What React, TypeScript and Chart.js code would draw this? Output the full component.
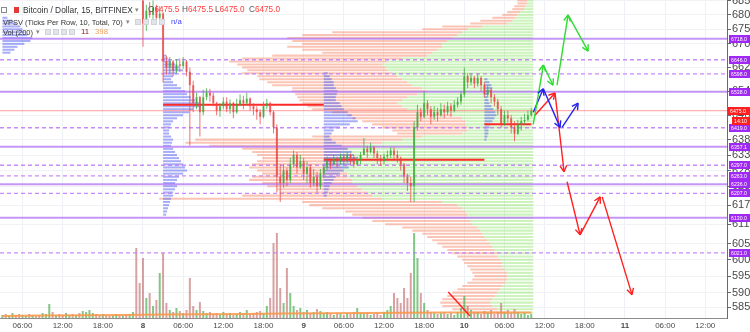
import React, { useEffect, useRef } from 'react';
import { Chart, registerables } from 'chart.js';

Chart.register(...registerables);

const WIDTH = 750;
const HEIGHT = 332;
const FONT = '"Liberation Sans", Arial, sans-serif';

// ---- time axis (hours counted from the 7th, 00:00) ----
const TIME_MIN = 2.64;
const TIME_MAX = 111.24;
const TIME_TICKS = [6, 12, 18, 24, 30, 36, 42, 48, 54, 60, 66, 72, 78, 84, 90, 96, 102, 108];
const DAY_LABELS: Record<number, string> = { 24: '8', 48: '9', 72: '10', 96: '11' };

// ---- price axis (log) ----
const PRICE_MIN = 5824;
const PRICE_MAX = 6852;
const PRICE_TICKS = [6850, 6800, 6750, 6700, 6620, 6540, 6460, 6380, 6330, 6280, 6230, 6170, 6110, 6050, 6000, 5950, 5900, 5856];

// ---- candles (30 min) ----
const CANDLE_START = 24;
const CANDLE_STEP = 0.5;
const FIRST_OPEN = 6850;
const CANDLE_CLOSE = [
  6770, 6815, 6800, 6825, 6790, 6805, 6640, 6620, 6640, 6610,
  6630, 6625, 6640, 6605, 6560, 6500, 6520, 6470, 6520, 6535,
  6525, 6500, 6475, 6490, 6505, 6480, 6500, 6470, 6495, 6510,
  6500, 6515, 6490, 6480, 6470, 6455, 6490, 6500, 6470, 6420,
  6260, 6240, 6280, 6250, 6300, 6330, 6290, 6310, 6270, 6290,
  6240, 6260, 6230, 6270, 6290, 6310, 6300, 6320, 6310, 6325,
  6315, 6330, 6320, 6300, 6315, 6330, 6350, 6340, 6355, 6335,
  6320, 6310, 6325, 6330, 6345, 6330, 6320, 6300, 6260, 6240,
  6230, 6420, 6470, 6455, 6500, 6480, 6455, 6470, 6460, 6480,
  6470, 6490, 6475, 6495, 6505, 6530, 6590, 6570, 6585, 6565,
  6585, 6560, 6530, 6545, 6520, 6505, 6480, 6430, 6460, 6450,
  6420, 6400, 6430, 6440, 6445, 6460, 6475,
];
const CANDLE_HIGH = [
  6865, 6835, 6845, 6850, 6835, 6830, 6810, 6660, 6655, 6645,
  6648, 6650, 6655, 6645, 6620, 6575, 6535, 6525, 6545, 6550,
  6548, 6535, 6505, 6500, 6520, 6520, 6512, 6505, 6515, 6530,
  6525, 6535, 6520, 6500, 6490, 6480, 6505, 6515, 6505, 6475,
  6430, 6300, 6300, 6290, 6320, 6345, 6340, 6330, 6320, 6310,
  6300, 6285, 6275, 6285, 6300, 6325, 6320, 6330, 6325, 6335,
  6335, 6340, 6335, 6330, 6325, 6340, 6385, 6360, 6370, 6360,
  6345, 6330, 6335, 6345, 6355, 6355, 6345, 6325, 6305, 6270,
  6260, 6440, 6495, 6485, 6540, 6510, 6490, 6490, 6485, 6500,
  6495, 6505, 6500, 6510, 6520, 6540, 6620, 6600, 6600, 6590,
  6600, 6590, 6570, 6560, 6550, 6530, 6515, 6490, 6475, 6475,
  6460, 6440, 6445, 6455, 6465, 6475, 6485,
];
const CANDLE_LOW = [
  6690, 6745, 6790, 6785, 6775, 6770, 6570, 6595, 6600, 6590,
  6600, 6605, 6615, 6590, 6360, 6470, 6480, 6390, 6460, 6510,
  6505, 6490, 6460, 6455, 6480, 6470, 6465, 6450, 6465, 6490,
  6480, 6495, 6475, 6460, 6445, 6430, 6450, 6480, 6460, 6400,
  6210, 6180, 6225, 6230, 6240, 6290, 6270, 6285, 6250, 6240,
  6225, 6230, 6210, 6220, 6255, 6280, 6285, 6295, 6290, 6300,
  6300, 6305, 6300, 6290, 6295, 6300, 6330, 6320, 6335, 6320,
  6300, 6295, 6300, 6310, 6320, 6315, 6305, 6280, 6240, 6215,
  6180, 6180, 6410, 6440, 6450, 6460, 6430, 6445, 6440, 6455,
  6450, 6460, 6455, 6470, 6485, 6495, 6520, 6550, 6560, 6550,
  6555, 6540, 6520, 6520, 6500, 6490, 6460, 6420, 6425, 6435,
  6400, 6375, 6395, 6410, 6430, 6440, 6455,
];

// ---- volume (30 min) ----
const VOLUME_START = 3;
const VOLUME_STEP = 0.5;
const VOLUME_AXIS_MAX = 318;
const VOLUME = [
  3, 4, 2, 5, 3, 4, 3, 2, 4, 3, 2, 3, 5, 4, 14, 6, 3, 4, 3, 5,
  3, 4, 3, 5, 7, 6, 8, 5, 4, 3, 4, 3, 2, 3, 4, 3, 2, 3, 4, 6,
  70, 35,
  60, 20, 25, 12, 18, 45, 65, 15, 8, 6,
  10, 7, 5, 8, 40, 12, 8, 16, 7, 5,
  6, 4, 5, 3, 6, 4, 5, 3, 4, 6,
  5, 8, 4, 5, 6, 7, 5, 12, 20, 75,
  85, 30, 15, 50, 25, 12, 8, 10, 6, 8,
  5, 6, 9, 7, 5, 6, 4, 3, 5, 4,
  3, 5, 4, 6, 10, 5, 4, 5, 3, 4,
  5, 3, 6, 8, 12, 25, 20, 15, 30, 20,
  45, 85, 60, 25, 15, 8, 6, 5, 4, 5,
  6, 4, 5, 3, 6, 10, 22, 12, 8, 5,
  6, 4, 7, 5, 8, 4, 6, 15, 6, 8,
  5, 9, 6, 4, 5, 3, 4,
];
// direction of the volume bars before the first visible candle (u = up, d = down)
const PRE_CANDLE_VOLUME_DIR = 'uduudduududduuududduududuuuuddudduududuudd';
const VOL_MA_TIME = [3, 9, 15, 21, 27, 33, 39, 45, 51, 57, 63, 69, 75, 82];
const VOL_MA = [2, 2.5, 2.8, 3, 3.4, 3.8, 4, 4.4, 4.8, 5, 5.2, 5.4, 5.5, 5.5];

// ---- right-anchored volume profile (rows of 10 USD, from 6850 down) ----
const PROFILE_TOP = 6850;
const PROFILE_STEP = 10;
const PROFILE_ANCHOR = 82.3;
const PROFILE_UNIT = 0.1494; // hours per volume unit
const PROFILE_UP = [
  6, 6, 8, 9, 13, 16, 18, 21, 26, 51,
  66, 71, 76, 81, 86, 91, 91, 96, 101, 106,
  131, 146, 151, 148, 146, 141, 136, 131, 126, 121,
  111, 106, 116, 126, 131, 136, 131, 126, 101, 81,
  71, 68, 68, 66, 66, 71, 111, 131, 151, 171,
  186, 191, 196, 201, 201, 196, 191, 191, 186, 186,
  181, 181, 176, 171, 166, 161, 151, 91, 76, 71,
  68, 66, 66, 63, 61, 56, 53, 51, 49, 46,
  43, 41, 39, 36, 36, 33, 31, 31, 29, 26,
  26, 26, 28, 31, 33, 36, 38, 41, 43, 41,
  36, 26,
];
const PROFILE_DOWN = [
  10, 10, 11, 12, 13, 15, 23, 32, 37, 40,
  45, 130, 155, 165, 155, 140, 155, 135, 110, 155,
  160, 158, 145, 143, 140, 150, 140, 143, 140, 140,
  130, 135, 122, 110, 103, 95, 95, 95, 100, 105,
  110, 103, 93, 85, 75, 65, 110, 207, 197, 153,
  105, 90, 80, 70, 75, 85, 93, 85, 85, 95,
  103, 90, 90, 85, 88, 130, 223, 140, 148, 140,
  120, 115, 105, 98, 87, 75, 68, 60, 57, 55,
  53, 50, 47, 45, 40, 38, 38, 35, 34, 35,
  33, 35, 38, 40, 43, 45, 48, 50, 50, 50,
  45, 35,
];

// ---- session volume profiles (blue) ----
const SESSION_START = [3, 27, 51, 75];
const SESSION_TOP = [6790, 6660, 6600, 6580];
const SESSION_7_ROWS = [5, 10, 14, 18, 20, 22, 25, 30, 28, 22, 15, 12, 8];
const SESSION_8_ROWS = [
  3, 5, 8, 12, 16, 20, 14, 10, 8, 10, 14, 18, 22, 24, 28, 32, 36, 38, 30, 26,
  20, 14, 10, 8, 7, 6, 6, 8, 10, 9, 8, 10, 12, 14, 16, 18, 20, 22, 24, 20,
  16, 14, 12, 14, 12, 10, 10, 8, 7, 6, 5, 4, 3,
];
const SESSION_9_ROWS = [
  4, 6, 8, 10, 10, 12, 14, 13, 12, 12, 16, 18, 20, 24, 28, 32, 34, 26, 16, 10,
  8, 6, 8, 12, 18, 24, 28, 30, 33, 30, 27, 25, 20, 16, 12, 10, 8, 6, 5, 4, 3,
];
const SESSION_10_ROWS = [3, 5, 7, 8, 6, 4, 3, 4, 5, 7, 9, 11, 12, 10, 8, 6, 5, 4, 4, 3, 2];

// ---- point of control per session ----
const POC_START = [27, 51, 75];
const POC_END = [51, 75, 82];
const POC_PRICE = [6495, 6315, 6430];

// ---- horizontal levels ----
const SOLID_LEVELS = [6718, 6538, 6357.1, 6236, 6130];
const DASHED_LEVELS = [6646, 6598, 6419, 6297, 6263, 6207, 6021];
const LAST_PRICE = 6475;
const COUNTDOWN = '14:10';

// ---- drawn arrows: [[time, price], [time, price]] ----
const GREEN_ARROWS = [
  [[82.3, 6430], [83.8, 6628]],
  [[83.8, 6628], [85.25, 6560]],
  [[85.85, 6560], [87.5, 6800]],
  [[87.5, 6800], [90.5, 6675]],
];
const BLUE_ARROWS = [
  [[82.3, 6470], [83.8, 6548]],
  [[83.8, 6548], [86.3, 6420]],
  [[86.6, 6420], [89.0, 6500]],
];
const RED_ARROWS = [
  [[82.55, 6460], [85.55, 6534]],
  [[85.55, 6534], [86.9, 6276]],
  [[87.35, 6244], [89.3, 6077]],
  [[89.3, 6077], [92.3, 6196]],
  [[92.6, 6196], [97.05, 5894]],
];
const RED_LINES = [[[69.6, 5902], [72.85, 5830]]];

// ---- legend texts ----
const TITLE = 'Bitcoin / Dollar, 15, BITFINEX';
const OHLC_KEYS = ['O', 'H', 'L', 'C'];
const OHLC_VALUES = ['6475.5', '6475.5', '6475.0', '6475.0'];
const VPSV_TITLE = 'VPSV (Ticks Per Row, 10, Total, 70)';
const VPSV_VALUE = 'n/a';
const VOL_TITLE = 'Vol (200)';
const VOL_VALUES = ['11', '398'];

// ---- colours ----
const UP = 'rgba(60,170,60,0.78)';
const DOWN = 'rgba(232,70,70,0.75)';
const VOL_UP = 'rgba(76,175,80,0.7)';
const VOL_DOWN = 'rgba(190,100,100,0.6)';
const SALMON = 'rgba(247,140,110,0.5)';
const LIGHT_GREEN = 'rgba(140,228,105,0.45)';
const BLUE_PROFILE = 'rgba(95,105,238,0.55)';
const LEVEL_SOLID = 'rgba(178,115,245,0.75)';
const LEVEL_DASHED = 'rgba(190,120,248,0.85)';
const LABEL_PURPLE = 'rgb(160,40,245)';
const LABEL_RED = '#ff1f1f';

function hline(t0: number, t1: number, p: number) {
  return [{ x: t0, y: p }, { x: t1, y: p }];
}

const overlayPlugin = {
  id: 'overlay',
  afterDatasetsDraw(chart: any) {
    const ctx = chart.ctx;
    chart.data.datasets.forEach((ds: any, i: number) => {
      if (!ds.arrowHead) return;
      const pts = chart.getDatasetMeta(i).data;
      if (pts.length < 2) return;
      const a = pts[pts.length - 2];
      const b = pts[pts.length - 1];
      const ang = Math.atan2(b.y - a.y, b.x - a.x);
      ctx.save();
      ctx.strokeStyle = ds.borderColor;
      ctx.lineWidth = ds.borderWidth;
      ctx.beginPath();
      [-0.5, 0.5].forEach((d) => {
        ctx.moveTo(b.x, b.y);
        ctx.lineTo(b.x - 7 * Math.cos(ang + d), b.y - 7 * Math.sin(ang + d));
      });
      ctx.stroke();
      ctx.restore();
    });
  },
  afterDraw(chart: any) {
    const ctx = chart.ctx;
    const ys = chart.scales.y;
    const box = (price: number, text: string, color: string, x0: number, dy: number) => {
      const py = ys.getPixelForValue(price) + dy;
      ctx.save();
      ctx.fillStyle = color;
      ctx.fillRect(x0, Math.round(py - 4), WIDTH - x0, 8);
      ctx.fillStyle = '#ffffff';
      ctx.font = `5.2px ${FONT}`;
      ctx.textAlign = 'left';
      ctx.textBaseline = 'middle';
      ctx.fillText(text, x0 + 2, py + 0.5);
      ctx.restore();
    };
    [...SOLID_LEVELS, ...DASHED_LEVELS].forEach((p) => box(p, p.toFixed(1), LABEL_PURPLE, 729, 0));
    box(LAST_PRICE, LAST_PRICE.toFixed(1), LABEL_RED, 728, 0);
    box(LAST_PRICE, COUNTDOWN, LABEL_RED, 732, 10);
  },
};

function buildDatasets() {
  const ds: any[] = [];
  const rows = PROFILE_UP.map((_, k) => PROFILE_TOP - k * PROFILE_STEP);
  const profBase = { type: 'bar', indexAxis: 'y', xAxisID: 'x2', yAxisID: 'y2', grouped: false, maxBarThickness: 2.2, borderWidth: 0 };
  ds.push({
    ...profBase, order: 100, backgroundColor: SALMON,
    data: rows.map((p, k) => ({ y: p, x: [PROFILE_ANCHOR - (PROFILE_UP[k] + PROFILE_DOWN[k]) * PROFILE_UNIT, PROFILE_ANCHOR - PROFILE_UP[k] * PROFILE_UNIT] })),
  });
  ds.push({
    ...profBase, order: 99, backgroundColor: LIGHT_GREEN,
    data: rows.map((p, k) => ({ y: p, x: [PROFILE_ANCHOR - PROFILE_UP[k] * PROFILE_UNIT, PROFILE_ANCHOR] })),
  });
  const sessions = [SESSION_7_ROWS, SESSION_8_ROWS, SESSION_9_ROWS, SESSION_10_ROWS];
  const sessionData: any[] = [];
  sessions.forEach((r, s) => r.forEach((w, k) => {
    sessionData.push({ y: SESSION_TOP[s] - k * PROFILE_STEP, x: [SESSION_START[s], SESSION_START[s] + w * PROFILE_UNIT] });
  }));
  ds.push({ ...profBase, order: 95, backgroundColor: BLUE_PROFILE, data: sessionData });

  // candles
  const opens = CANDLE_CLOSE.map((_, i) => (i === 0 ? FIRST_OPEN : CANDLE_CLOSE[i - 1]));
  const candleColor = CANDLE_CLOSE.map((c, i) => (c >= opens[i] ? UP : DOWN));
  const candleTime = CANDLE_CLOSE.map((_, i) => CANDLE_START + i * CANDLE_STEP);

  // volume
  const volColor = VOLUME.map((_, j) => {
    const i = j - PRE_CANDLE_VOLUME_DIR.length;
    if (i < 0) return PRE_CANDLE_VOLUME_DIR[j] === 'u' ? VOL_UP : VOL_DOWN;
    return CANDLE_CLOSE[i] >= opens[i] ? VOL_UP : VOL_DOWN;
  });
  ds.push({
    type: 'bar', xAxisID: 'x', yAxisID: 'yv', grouped: false, maxBarThickness: 2, borderWidth: 0, order: 80,
    backgroundColor: volColor,
    data: VOLUME.map((v, j) => ({ x: VOLUME_START + j * VOLUME_STEP, y: v })),
  });
  ds.push({
    type: 'line', xAxisID: 'x', yAxisID: 'yv', order: 75, borderColor: 'rgba(250,150,70,0.85)', borderWidth: 2,
    pointRadius: 0, tension: 0, data: VOL_MA_TIME.map((t, k) => ({ x: t, y: VOL_MA[k] })),
  });

  const lineBase = { type: 'line', xAxisID: 'x', yAxisID: 'y', pointRadius: 0, tension: 0, fill: false };
  SOLID_LEVELS.forEach((p) => ds.push({ ...lineBase, order: 60, borderColor: LEVEL_SOLID, borderWidth: 2, data: hline(TIME_MIN, TIME_MAX, p) }));
  DASHED_LEVELS.forEach((p) => ds.push({ ...lineBase, order: 60, borderColor: LEVEL_DASHED, borderWidth: 1.4, borderDash: [4, 3], data: hline(TIME_MIN, TIME_MAX, p) }));
  ds.push({ ...lineBase, order: 58, borderColor: 'rgba(255,90,90,0.6)', borderWidth: 1, data: hline(TIME_MIN, TIME_MAX, LAST_PRICE) });
  POC_PRICE.forEach((p, k) => ds.push({ ...lineBase, order: 50, borderColor: '#ff2a2a', borderWidth: 2, data: hline(POC_START[k], POC_END[k], p) }));

  ds.push({
    type: 'bar', xAxisID: 'x', yAxisID: 'y', grouped: false, maxBarThickness: 1, borderWidth: 0, order: 40,
    backgroundColor: candleColor,
    data: candleTime.map((t, i) => ({ x: t, y: [CANDLE_LOW[i], CANDLE_HIGH[i]] })),
  });
  ds.push({
    type: 'bar', xAxisID: 'x', yAxisID: 'y', grouped: false, maxBarThickness: 2, borderWidth: 0, order: 30, minBarLength: 1,
    backgroundColor: candleColor,
    data: candleTime.map((t, i) => ({ x: t, y: [opens[i], CANDLE_CLOSE[i]] })),
  });

  const arrow = (seg: number[][], color: string, head: boolean) => ({
    ...lineBase, order: 10, borderColor: color, borderWidth: 1.4, arrowHead: head,
    data: seg.map(([t, p]) => ({ x: t, y: p })),
  });
  GREEN_ARROWS.forEach((s) => ds.push(arrow(s, '#2fdc2f', true)));
  BLUE_ARROWS.forEach((s) => ds.push(arrow(s, '#2424ee', true)));
  RED_ARROWS.forEach((s) => ds.push(arrow(s, '#ff2020', true)));
  RED_LINES.forEach((s) => ds.push(arrow(s, '#ff2020', false)));
  return ds;
}

function Txt(props: { x: number; y: number; size: number; color?: string; bold?: boolean; children: any }) {
  const { x, y, size, color = '#333', bold, children } = props;
  return (
    <span
      style={{
        position: 'absolute', left: x, top: y - size * 0.6, fontSize: size, lineHeight: `${size * 1.2}px`,
        fontFamily: FONT, color, fontWeight: bold ? 700 : 400, whiteSpace: 'nowrap',
      }}
    >
      {children}
    </span>
  );
}

function Icon(props: { x: number; y: number }) {
  return (
    <span
      style={{
        position: 'absolute', left: props.x, top: props.y - 3, width: 6, height: 6,
        background: '#e2e4e8', border: '1px solid #cfd2d8', boxSizing: 'border-box',
      }}
    />
  );
}

export default function App() {
  const ref = useRef<HTMLCanvasElement>(null);
  useEffect(() => {
    const canvas = ref.current;
    if (!canvas) return;
    const chart = new Chart(canvas, {
      type: 'bar',
      data: { datasets: buildDatasets() },
      plugins: [overlayPlugin],
      options: {
        responsive: false,
        animation: false,
        devicePixelRatio: 1,
        events: [],
        layout: { padding: 0 },
        plugins: { legend: { display: false }, tooltip: { enabled: false } },
        scales: {
          x: {
            type: 'linear', position: 'bottom', min: TIME_MIN, max: TIME_MAX, bounds: 'data', offset: false,
            afterBuildTicks: (s: any) => { s.ticks = TIME_TICKS.map((v) => ({ value: v })); },
            afterFit: (s: any) => { s.height = 14; s.paddingLeft = 0; s.paddingRight = 0; },
            grid: { color: '#edf0f5', drawTicks: false, offset: false },
            border: { display: true, color: '#8c8c8c' },
            ticks: {
              padding: 3, autoSkip: false, maxRotation: 0, color: '#4a4a4a',
              font: (c: any) => ({ size: 8, family: FONT, weight: c.tick && DAY_LABELS[c.tick.value] ? 'bold' : 'normal' }),
              callback: (v: any) => DAY_LABELS[v] ?? `${String(v % 24).padStart(2, '0')}:00`,
            },
          },
          y: {
            type: 'logarithmic', position: 'right', min: PRICE_MIN, max: PRICE_MAX, bounds: 'data', offset: false,
            afterBuildTicks: (s: any) => { s.ticks = PRICE_TICKS.map((v) => ({ value: v })); },
            afterFit: (s: any) => { s.width = 23; s.paddingTop = 0; s.paddingBottom = 0; },
            grid: { color: '#f0f2f6', tickLength: 4, tickColor: '#666', offset: false },
            border: { display: true, color: '#6a6a6a' },
            ticks: { padding: 1, autoSkip: false, color: '#4a4a4a', font: { size: 11, family: FONT }, callback: (v: any) => String(v) },
          },
          yv: { type: 'linear', display: false, position: 'left', min: 0, max: VOLUME_AXIS_MAX, offset: false },
          x2: { type: 'linear', display: false, axis: 'x', position: 'bottom', min: TIME_MIN, max: TIME_MAX, bounds: 'data', offset: false },
          y2: { type: 'logarithmic', display: false, axis: 'y', position: 'right', min: PRICE_MIN, max: PRICE_MAX, bounds: 'data', offset: false },
        },
      } as any,
    } as any);
    return () => chart.destroy();
  }, []);

  const ohlcX = [148, 182, 215, 249];
  return (
    <div style={{ position: 'fixed', left: 0, top: 0, width: WIDTH, height: HEIGHT, background: '#ffffff', overflow: 'hidden' }}>
      <canvas ref={ref} width={WIDTH} height={HEIGHT} style={{ display: 'block', width: WIDTH, height: HEIGHT }} />
      <span style={{ position: 'absolute', left: 1, top: 7, width: 6, height: 6, border: '1px solid #8a8a8a', boxSizing: 'border-box', background: '#fff' }} />
      <span style={{ position: 'absolute', left: 14, top: 7, width: 5, height: 6, background: '#e53935' }} />
      <Txt x={23} y={10} size={8.4}>{TITLE}</Txt>
      <Txt x={135} y={10} size={7} color="#888">▾</Txt>
      {OHLC_KEYS.map((k, i) => (
        <Txt key={k} x={ohlcX[i]} y={10} size={8.2} color="#555">
          {k}<span style={{ color: '#ff3b3b' }}>{OHLC_VALUES[i]}</span>
        </Txt>
      ))}
      <Txt x={3} y={22} size={7.5}>{VPSV_TITLE}</Txt>
      <Txt x={126} y={22} size={6.5} color="#888">▾</Txt>
      {[135, 143, 151, 159].map((x) => <Icon key={x} x={x} y={22} />)}
      <Txt x={171} y={22} size={7.8} color="#3f3fff">{VPSV_VALUE}</Txt>
      <Txt x={3} y={32} size={7.5}>{VOL_TITLE}</Txt>
      <Txt x={36} y={32} size={6.5} color="#888">▾</Txt>
      {[45, 53, 61, 69].map((x) => <Icon key={x} x={x} y={32} />)}
      <Txt x={81} y={32} size={7.8} color="#8b1a1a">{VOL_VALUES[0]}</Txt>
      <Txt x={95} y={32} size={7.8} color="#f0a35a">{VOL_VALUES[1]}</Txt>
    </div>
  );
}
